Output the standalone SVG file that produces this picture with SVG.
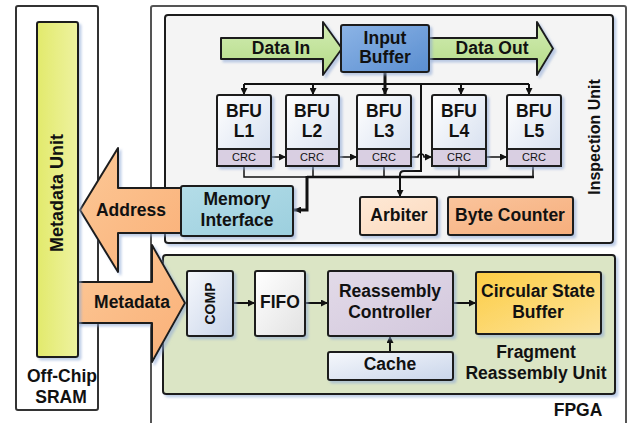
<svg xmlns="http://www.w3.org/2000/svg" width="628" height="423" viewBox="0 0 628 423">
<defs>
<style>
.t{font-family:"Liberation Sans",Arial,sans-serif;font-weight:bold;font-size:17.5px;fill:#111;text-anchor:middle}
.crc{font-family:"Liberation Sans",Arial,sans-serif;font-size:11px;fill:#111;text-anchor:middle}
.bx{stroke:#1e1e1e;stroke-width:2}
.ln{fill:none;stroke:#111;stroke-width:2}
.thin{fill:none;stroke:#111;stroke-width:1.5}
.thick{fill:none;stroke:#111;stroke-width:3}
</style>
<marker id="ah" viewBox="0 0 8 8" markerWidth="7" markerHeight="7" refX="8" refY="4" orient="auto" markerUnits="userSpaceOnUse">
<path d="M0,0 L8,4 L0,8 Z" fill="#111"/>
</marker>
<filter id="sh" x="-10%" y="-10%" width="130%" height="130%">
<feDropShadow dx="2.5" dy="2.5" stdDeviation="1.2" flood-color="#8ea8d6" flood-opacity="0.55"/>
</filter>
<linearGradient id="gBFU" x1="0" y1="0" x2="1" y2="1"><stop offset="0" stop-color="#ffffff"/><stop offset="1" stop-color="#d3ddee"/></linearGradient>
<linearGradient id="gIB" x1="0" y1="0" x2="1" y2="1"><stop offset="0" stop-color="#8cb4e6"/><stop offset="1" stop-color="#5a8ed0"/></linearGradient>
<linearGradient id="gGreen" x1="0" y1="0" x2="0" y2="1"><stop offset="0" stop-color="#d3edb4"/><stop offset="1" stop-color="#b3da86"/></linearGradient>
<linearGradient id="gOr" x1="0" y1="0" x2="1" y2="1"><stop offset="0" stop-color="#fcc896"/><stop offset="1" stop-color="#fab078"/></linearGradient>
<linearGradient id="gMU" x1="0" y1="0" x2="1" y2="0"><stop offset="0" stop-color="#e2ea6c"/><stop offset="1" stop-color="#eef2a0"/></linearGradient>
<linearGradient id="gMI" x1="0" y1="0" x2="1" y2="1"><stop offset="0" stop-color="#b4dde8"/><stop offset="1" stop-color="#9ccfde"/></linearGradient>
<linearGradient id="gArb" x1="0" y1="0" x2="1" y2="1"><stop offset="0" stop-color="#fee9d6"/><stop offset="1" stop-color="#fcd9bd"/></linearGradient>
<linearGradient id="gBC" x1="0" y1="0" x2="1" y2="1"><stop offset="0" stop-color="#fac49c"/><stop offset="1" stop-color="#f6ae7c"/></linearGradient>
<linearGradient id="gRC" x1="0" y1="0" x2="1" y2="1"><stop offset="0" stop-color="#e2dae8"/><stop offset="1" stop-color="#d3c8dd"/></linearGradient>
<linearGradient id="gCSB" x1="0" y1="0" x2="1" y2="1"><stop offset="0" stop-color="#fccd45"/><stop offset="1" stop-color="#fde39a"/></linearGradient>
<linearGradient id="gCache" x1="0" y1="0" x2="1" y2="1"><stop offset="0" stop-color="#f6f8fc"/><stop offset="1" stop-color="#c9d5ea"/></linearGradient>
<linearGradient id="gFIFO" x1="0" y1="0" x2="1" y2="1"><stop offset="0" stop-color="#ffffff"/><stop offset="1" stop-color="#e2e2e2"/></linearGradient>
</defs>

<g id="fpga">
<rect x="151" y="6" width="475" height="430" fill="#ffffff" stroke="#555" stroke-width="2" rx="2"/>
<text class="t" x="578" y="416">FPGA</text>
</g>
<g id="offchip-sram">
<rect x="16" y="6" width="82" height="404" fill="#ffffff" stroke="#333" stroke-width="2" rx="2"/>
<text class="t" x="62" y="382">Off-Chip</text>
<text class="t" x="61" y="403">SRAM</text>
</g>
<g id="inspection-unit">
<rect x="165" y="15" width="448" height="228" rx="3" fill="#f4f4f4" stroke="#1e1e1e" stroke-width="2" filter="url(#sh)"/>
<text class="t" font-size="16" style="font-size:16px" transform="translate(600,137) rotate(-90)">Inspection Unit</text>
</g>
<g id="fragment-reassembly-unit">
<rect x="163" y="255" width="452" height="139" rx="3" fill="#dbe5c5" stroke="#1e1e1e" stroke-width="2" filter="url(#sh)"/>
<text class="t" x="536" y="358">Fragment</text>
<text class="t" x="536" y="379">Reassembly Unit</text>
</g>

<g id="data-in">
<path d="M221,38 H323 V22 L342,48.5 L323,75 V59 H221 Z" fill="url(#gGreen)" class="bx" stroke-linejoin="round" filter="url(#sh)"/>
<text class="t" x="281" y="54">Data In</text>
</g>
<g id="data-out">
<path d="M429,38 H537 V22 L553,48.5 L537,75 V59 H429 Z" fill="url(#gGreen)" class="bx" stroke-linejoin="round" filter="url(#sh)"/>
<text class="t" x="492" y="54">Data Out</text>
</g>
<g id="address">
<path d="M183,188 H118 V148 L80,210 L118,272 V233 H183 Z" fill="url(#gOr)" class="bx" stroke-linejoin="round" filter="url(#sh)"/>
<text class="t" x="131" y="216">Address</text>
</g>
<g id="metadata">
<path d="M76,282 H152 V245 L185,303 L152,362 V323 H76 Z" fill="url(#gOr)" class="bx" stroke-linejoin="round" filter="url(#sh)"/>
<text class="t" x="132" y="308">Metadata</text>
</g>
<g id="metadata-unit">
<rect x="37" y="22" width="41" height="335" rx="2" fill="url(#gMU)" class="bx" filter="url(#sh)"/>
<text class="t" style="font-size:18px" transform="translate(63,193) rotate(-90)">Metadata Unit</text>
</g>

<g id="connectors">
<line class="ln" x1="244" y1="84" x2="529" y2="84"/>
<line class="ln" x1="244" y1="84" x2="244" y2="95" marker-end="url(#ah)"/>
<line class="ln" x1="313" y1="84" x2="313" y2="95" marker-end="url(#ah)"/>
<line class="ln" x1="461" y1="84" x2="461" y2="95" marker-end="url(#ah)"/>
<line class="ln" x1="529" y1="84" x2="529" y2="95" marker-end="url(#ah)"/>
<line class="thick" x1="385" y1="72" x2="385" y2="95" marker-end="url(#ah)"/>
<path class="thin" d="M271,157 H286" marker-end="url(#ah)"/>
<path class="thin" d="M338,157 H357" marker-end="url(#ah)"/>
<path class="thin" d="M411,157 H418 A3,3 0 0 1 424,157 H432" marker-end="url(#ah)"/>
<path class="thin" d="M486,157 H507" marker-end="url(#ah)"/>
<path class="thin" d="M244,166 V177 H308"/>
<path class="thin" d="M313,166 V177"/>
<path class="thin" d="M384,166 V177"/>
<path class="thin" d="M459,166 V177"/>
<path class="thin" d="M533,166 V177"/>
<path fill="none" stroke="#111" stroke-width="2.5" d="M307,177 H534"/>
<path class="thick" d="M307,176 V210 H294" marker-end="url(#ah)"/>
<path class="ln" d="M421,84 V171 H404 Q400,171 400,175 V197" marker-end="url(#ah)"/>
<path class="ln" d="M233,303 H255" marker-end="url(#ah)"/>
<path class="ln" d="M305,303 H328" marker-end="url(#ah)"/>
<path class="ln" d="M453,303 H476" marker-end="url(#ah)"/>
<path class="ln" d="M390,352 V336" marker-end="url(#ah)"/>
</g>

<g id="input-buffer">
<rect x="341" y="25" width="88" height="47" rx="2" fill="url(#gIB)" class="bx" filter="url(#sh)"/>
<text class="t" x="385" y="44">Input</text>
<text class="t" x="385" y="63">Buffer</text>
</g>
<g id="bfu-l1">
<rect x="217" y="95" width="54" height="71" rx="2" fill="url(#gBFU)" class="bx" filter="url(#sh)"/>
<rect x="217" y="149" width="54" height="17" fill="#d9cfe2" class="bx"/>
<text class="t" x="244" y="117">BFU</text><text class="t" x="244" y="137">L1</text>
<text class="crc" x="244" y="161">CRC</text>
</g>
<g id="bfu-l2">
<rect x="286" y="95" width="53" height="71" rx="2" fill="url(#gBFU)" class="bx" filter="url(#sh)"/>
<rect x="286" y="149" width="53" height="17" fill="#d9cfe2" class="bx"/>
<text class="t" x="312" y="117">BFU</text><text class="t" x="312" y="137">L2</text>
<text class="crc" x="312" y="161">CRC</text>
</g>
<g id="bfu-l3">
<rect x="357" y="95" width="54" height="71" rx="2" fill="url(#gBFU)" class="bx" filter="url(#sh)"/>
<rect x="357" y="149" width="54" height="17" fill="#d9cfe2" class="bx"/>
<text class="t" x="384" y="117">BFU</text><text class="t" x="384" y="137">L3</text>
<text class="crc" x="384" y="161">CRC</text>
</g>
<g id="bfu-l4">
<rect x="432" y="95" width="54" height="71" rx="2" fill="url(#gBFU)" class="bx" filter="url(#sh)"/>
<rect x="432" y="149" width="54" height="17" fill="#d9cfe2" class="bx"/>
<text class="t" x="459" y="117">BFU</text><text class="t" x="459" y="137">L4</text>
<text class="crc" x="459" y="161">CRC</text>
</g>
<g id="bfu-l5">
<rect x="507" y="95" width="54" height="71" rx="2" fill="url(#gBFU)" class="bx" filter="url(#sh)"/>
<rect x="507" y="149" width="54" height="17" fill="#d9cfe2" class="bx"/>
<text class="t" x="534" y="117">BFU</text><text class="t" x="534" y="137">L5</text>
<text class="crc" x="534" y="161">CRC</text>
</g>
<g id="memory-interface">
<rect x="181" y="186" width="112" height="50" rx="2" fill="url(#gMI)" class="bx" filter="url(#sh)"/>
<text class="t" x="237" y="205">Memory</text>
<text class="t" x="237" y="226">Interface</text>
</g>
<g id="arbiter">
<rect x="360" y="197" width="77" height="38" rx="2" fill="url(#gArb)" class="bx" filter="url(#sh)"/>
<text class="t" x="399" y="221">Arbiter</text>
</g>
<g id="byte-counter">
<rect x="448" y="197" width="125" height="38" rx="2" fill="url(#gBC)" class="bx" filter="url(#sh)"/>
<text class="t" x="510" y="221">Byte Counter</text>
</g>
<g id="comp">
<rect x="187" y="271" width="46" height="65" rx="2" fill="url(#gCache)" class="bx" filter="url(#sh)"/>
<text class="t" style="font-size:14px" transform="translate(215,303.5) rotate(-90)">COMP</text>
</g>
<g id="fifo">
<rect x="255" y="271" width="50" height="65" rx="2" fill="url(#gFIFO)" class="bx" filter="url(#sh)"/>
<text class="t" x="280" y="308">FIFO</text>
</g>
<g id="reassembly-controller">
<rect x="328" y="271" width="125" height="65" rx="2" fill="url(#gRC)" class="bx" filter="url(#sh)"/>
<text class="t" x="390" y="297">Reassembly</text>
<text class="t" x="390" y="318">Controller</text>
</g>
<g id="circular-state-buffer">
<rect x="476" y="272" width="125" height="62" rx="2" fill="url(#gCSB)" class="bx" filter="url(#sh)"/>
<text class="t" x="538" y="297">Circular State</text>
<text class="t" x="538" y="318">Buffer</text>
</g>
<g id="cache">
<rect x="328" y="352" width="125" height="28" rx="2" fill="url(#gCache)" class="bx" filter="url(#sh)"/>
<text class="t" x="390" y="370">Cache</text>
</g>
</svg>
